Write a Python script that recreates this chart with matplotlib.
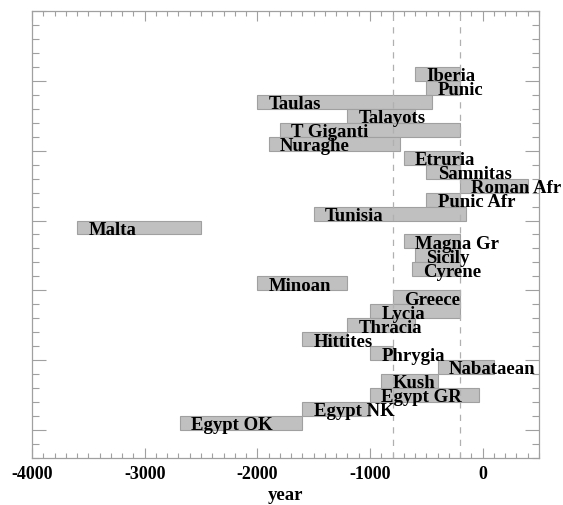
import matplotlib
matplotlib.use('Agg')
import matplotlib.pyplot as plt
from matplotlib.ticker import MultipleLocator

# cultures listed from top to bottom, with start and end year of each bar
NAMES = ['Iberia', 'Punic', 'Taulas', 'Talayots', 'T Giganti', 'Nuraghe',
         'Etruria', 'Samnitas', 'Roman Afr', 'Punic Afr', 'Tunisia', 'Malta',
         'Magna Gr', 'Sicily', 'Cyrene', 'Minoan', 'Greece', 'Lycia',
         'Thracia', 'Hittites', 'Phrygia', 'Nabataean', 'Kush', 'Egypt GR',
         'Egypt NK', 'Egypt OK']
START = [-600, -500, -2000, -1200, -1800, -1900,
         -700, -500, -200, -500, -1500, -3600,
         -700, -600, -630, -2000, -800, -1000,
         -1200, -1600, -1000, -400, -900, -1000,
         -1600, -2686]
END = [-200, -200, -450, -600, -200, -730,
       -200, -200, 400, -200, -150, -2500,
       -200, -200, -200, -1200, -200, -200,
       -600, -1200, -800, 100, -400, -30,
       -1000, -1600]
FIRST_ROW = 4   # empty rows above the first bar
N_ROWS = 32
MARKERS = [-800, -200]  # dashed reference years

plt.rcParams['font.family'] = ['Liberation Serif', 'DejaVu Serif']
plt.rcParams['font.weight'] = 'bold'
plt.rcParams['axes.unicode_minus'] = False

fig = plt.figure(figsize=(5.63, 5.06), dpi=100)
ax = fig.add_axes([0.0568, 0.0929, 0.9006, 0.8834])

for i, (name, s, e) in enumerate(zip(NAMES, START, END)):
    row = FIRST_ROW + i
    ax.barh(row + 0.5, e - s, left=s, height=1.0, color='#c0c0c0',
            edgecolor='#a0a0a0', linewidth=0.8, zorder=2)
    ax.text(s + 100, row + 0.95, name, fontsize=13.5, fontweight='bold',
            va='baseline', ha='left', color='black', zorder=4)

for m in MARKERS:
    ax.axvline(m, color='#b0b0b0', linestyle=(0, (5, 5)), linewidth=0.9, zorder=3)

ax.set_xlim(-4000, 500)
ax.set_ylim(N_ROWS, 0)

ax.xaxis.set_major_locator(MultipleLocator(1000))
ax.xaxis.set_minor_locator(MultipleLocator(100))
ax.yaxis.set_major_locator(MultipleLocator(5))
ax.yaxis.set_minor_locator(MultipleLocator(1))

ax.tick_params(axis='x', which='major', direction='in', length=7, width=0.8,
               color='#a0a0a0', top=True, bottom=True, labelsize=13, pad=5)
ax.tick_params(axis='x', which='minor', direction='in', length=3.5, width=0.8,
               color='#a0a0a0', top=True, bottom=True)
ax.tick_params(axis='y', which='major', direction='in', length=10, width=0.8,
               color='#a0a0a0', left=True, right=True, labelleft=False)
ax.tick_params(axis='y', which='minor', direction='in', length=5, width=0.8,
               color='#a0a0a0', left=True, right=True)
for lbl in ax.get_xticklabels():
    lbl.set_fontweight('bold')

for sp in ax.spines.values():
    sp.set_color('#a0a0a0')
    sp.set_linewidth(0.9)

ax.set_xlabel('year', fontsize=13.5, fontweight='bold', labelpad=3)

fig.savefig('out.png', dpi=100)
